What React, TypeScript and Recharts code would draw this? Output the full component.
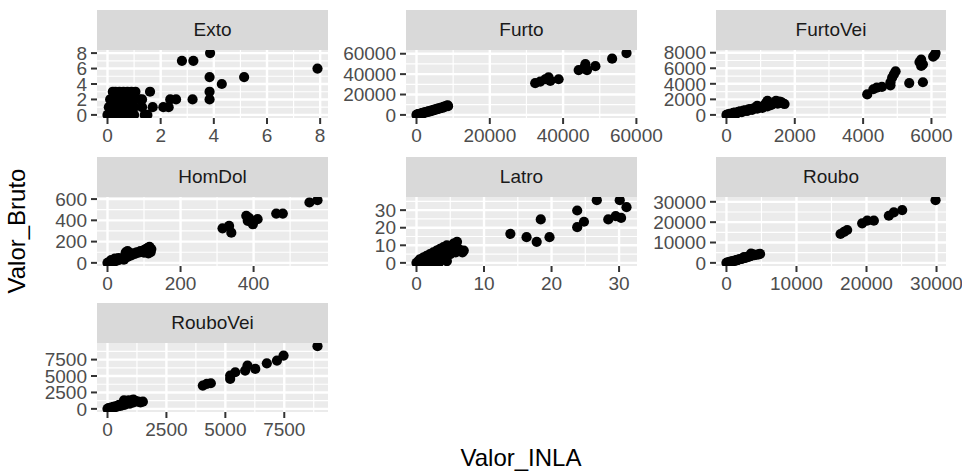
import { ScatterChart, Scatter, XAxis, YAxis, CartesianGrid } from "recharts";

type Pt = [number, number];

// values (Valor_INLA, Valor_Bruto)
const extoPoints: Pt[] = [
  [0.2, 3], [0.3, 3], [0.45, 3], [0.6, 3], [0.75, 3], [0.9, 3], [1.05, 3], [1.6, 3],
  [0.1, 2], [0.2, 2], [0.35, 2], [0.5, 2], [0.65, 2], [0.8, 2], [1.0, 2], [1.2, 2], [1.3, 2],
  [0.05, 1], [0.2, 1], [0.35, 1], [0.5, 1], [0.7, 1], [0.85, 1], [1.0, 1], [1.3, 1], [1.7, 1], [2.1, 1], [2.3, 1],
  [0, 0], [0.1, 0], [0.25, 0], [0.4, 0], [0.6, 0], [0.8, 0], [1.0, 0], [1.4, 0], [1.5, 0],
  [2.36, 2], [2.58, 2], [3.2, 2], [3.84, 2], [3.84, 3], [3.84, 4.9], [4.3, 4], [5.14, 4.9],
  [2.8, 7], [3.23, 7], [3.86, 8], [7.9, 6],
];

const furtoPoints: Pt[] = [
  [0, 0], [150, 250], [300, 100], [450, 500], [600, 700], [800, 600], [1000, 1100], [1200, 1400],
  [1400, 1300], [1600, 1800], [1800, 1700], [2000, 2200], [2300, 2500], [2600, 2400], [2900, 3100],
  [3200, 3400], [3500, 3300], [3800, 4000], [4100, 4300], [4400, 4200], [4700, 5000], [5000, 5300],
  [5300, 5200], [5600, 5900], [5900, 6200], [6200, 6100], [6500, 6800], [6800, 7100], [7100, 7000],
  [7400, 7800], [7700, 8100], [8000, 8400], [8300, 8900], [8500, 9400], [8600, 8600],
  [32390, 31120], [33760, 32720], [35130, 34970], [36040, 36900], [36500, 33360], [38780, 34970],
  [44250, 43950], [45620, 45560], [46080, 49730], [46530, 43950], [48810, 47800], [53380, 55180],
  [57300, 60640],
];

const furtoVeiPoints: Pt[] = [
  [0, 0], [50, 80], [100, 150], [150, 100], [200, 250], [250, 300], [300, 200], [350, 400],
  [400, 450], [450, 350], [500, 550], [550, 600], [600, 500], [650, 700], [700, 750], [750, 650],
  [800, 850], [850, 900], [900, 800], [950, 1000], [1000, 1050], [1050, 900], [1100, 1200],
  [1150, 1500], [1200, 1800], [1250, 1300], [1300, 1250], [1350, 1400], [1400, 1550], [1450, 1800],
  [1500, 1450], [1550, 1700], [1600, 1650], [1650, 1500], [1700, 1400], [1200, 1100], [900, 1150],
  [4120, 2640], [4300, 3300], [4400, 3500], [4550, 3600], [4800, 3800], [4800, 4200], [4850, 4800],
  [4900, 5200], [4950, 5600], [5350, 4100], [5650, 6800], [5700, 7100], [5700, 6300], [5750, 6500],
  [5750, 4200], [6050, 7500], [6100, 7700], [6120, 7950],
];

const homDolPoints: Pt[] = [
  [0, 0], [5, 10], [10, 5], [15, 20], [20, 15], [25, 30], [30, 25], [35, 40], [40, 35], [45, 50],
  [50, 60], [55, 55], [60, 80], [65, 70], [70, 90], [75, 85], [80, 100], [85, 95], [90, 110],
  [95, 105], [100, 120], [105, 130], [110, 140], [115, 150], [120, 130], [118, 100], [112, 90],
  [100, 95], [50, 100], [55, 110], [60, 95], [45, 30], [30, 45], [20, 40], [10, 25],
  [315, 325], [333, 347], [339, 284], [380, 442], [384, 395], [398, 363], [411, 411], [388, 420],
  [462, 464], [480, 464], [553, 568], [575, 590],
];

const latroPoints: Pt[] = [
  [0, 0], [0.3, 1], [0.5, 2], [0.8, 0], [1, 3], [1.2, 1], [1.5, 4], [1.8, 2], [2, 5], [2.2, 3],
  [2.5, 6], [2.8, 4], [3, 7], [3.2, 5], [3.5, 8], [3.8, 6], [4, 9], [4.2, 7], [4.5, 10], [4.8, 8],
  [5, 9], [5.5, 11], [6, 12], [6.2, 8], [6.5, 7], [6.8, 6], [7, 7], [5.8, 6], [4, 3], [3, 2],
  [2, 1], [1.5, 0], [5, 5], [3.3, 0], [2.5, 0], [4.5, 1],
  [13.9, 16.5], [16.3, 14.6], [17.8, 12], [18.4, 24.7], [19.7, 14.6], [23.8, 29.8], [23.8, 20.3],
  [24.8, 23.4], [28.4, 24.7], [29.5, 26.6], [30.3, 25.6], [26.7, 35.7], [30.1, 35.7], [31.1, 31.7],
];

const rouboPoints: Pt[] = [
  [0, 0], [200, 300], [400, 200], [600, 600], [800, 700], [1000, 900], [1200, 1100], [1400, 1200],
  [1600, 1500], [1800, 1700], [2000, 1900], [2200, 2000], [2400, 2300], [2600, 2400], [2800, 2600],
  [3000, 2900], [3200, 3000], [3400, 3300], [3600, 3500], [3800, 4200], [4000, 3800], [4300, 4000],
  [4600, 4200], [4800, 4400], [3500, 4500], [2500, 2800], [1500, 1300], [500, 400],
  [16290, 14190], [16800, 15200], [17240, 16150], [19380, 19410], [20100, 20720], [21050, 20720],
  [23190, 23165], [23900, 24800], [25100, 25950], [29860, 30830],
];

const rouboVeiPoints: Pt[] = [
  [0, 0], [50, 100], [100, 50], [150, 200], [200, 150], [250, 300], [300, 250], [350, 400],
  [400, 350], [450, 500], [500, 600], [550, 450], [600, 700], [650, 550], [700, 800], [750, 650],
  [800, 1200], [850, 900], [900, 1000], [950, 800], [1000, 1100], [1050, 1300], [1100, 1000],
  [1200, 1200], [1300, 1100], [1400, 1000], [1500, 1100], [700, 1300], [900, 1300], [1100, 1400],
  [4045, 3548], [4215, 3800], [4385, 3900], [5205, 4560], [5205, 5070], [5420, 5575], [5840, 5830],
  [5940, 6590], [6270, 6080], [6760, 6940], [7190, 7350], [7470, 8110], [8910, 9550],
];

const facetNames = ["Exto", "Furto", "FurtoVei", "HomDol", "Latro", "Roubo", "RouboVei"];
const facetPoints = [extoPoints, furtoPoints, furtoVeiPoints, homDolPoints, latroPoints, rouboPoints, rouboVeiPoints];

// breaks per facet
const xMajor = [
  [0, 2, 4, 6, 8], [0, 20000, 40000, 60000], [0, 2000, 4000, 6000], [0, 200, 400],
  [0, 10, 20, 30], [0, 10000, 20000, 30000], [0, 2500, 5000, 7500],
];
const xMinor = [
  [1, 3, 5, 7], [10000, 30000, 50000], [1000, 3000, 5000], [100, 300, 500],
  [5, 15, 25], [5000, 15000, 25000], [1250, 3750, 6250, 8750],
];
const yMajor = [
  [0, 2, 4, 6, 8], [0, 20000, 40000, 60000], [0, 2000, 4000, 6000, 8000], [0, 200, 400, 600],
  [0, 10, 20, 30], [0, 10000, 20000, 30000], [0, 2500, 5000, 7500],
];
const yMinor = [
  [1, 3, 5, 7], [10000, 30000, 50000], [1000, 3000, 5000, 7000], [100, 300, 500],
  [5, 15, 25, 35], [5000, 15000, 25000], [1250, 3750, 6250, 8750],
];

// layout of the facet grid (panel area, not counting strips / axes)
const colLeft = [97, 406, 716];
const colWidth = [231, 231, 230];
const rowTop = [50, 197, 343];
const rowHeight = [68, 69, 69];
const STRIP_H = 40;
const Y_AXIS_W = 80;
const X_AXIS_H = 34;
const TOP_PAD = 14; // room for the top tick label, which sticks out above the panel
const RIGHT_PAD = 40;

const FONT = "'Liberation Sans', Arial, Helvetica, sans-serif";
const tickStyle = { fill: "#4D4D4D", fontSize: 19, fontFamily: FONT };
const tickLineStyle = { stroke: "#333333", strokeWidth: 2 };

// ggplot-style continuous scale: data range expanded by 5% on each side
function expandRange(values: number[]): [number, number] {
  const lo = Math.min(...values);
  const hi = Math.max(...values);
  const pad = (hi - lo) * 0.05;
  return [lo - pad, hi + pad];
}

function Facet({ index }: { index: number }) {
  const col = index % 3;
  const row = Math.floor(index / 3);
  const pw = colWidth[col];
  const ph = rowHeight[row];
  const points = facetPoints[index];
  const data = points.map(([x, y]) => ({ x, y }));
  const xDomain = expandRange(points.map((p) => p[0]));
  const yDomain = expandRange(points.map((p) => p[1]));

  return (
    <>
      {/* Strip */}
      <div
        style={{
          position: "absolute",
          left: colLeft[col],
          top: rowTop[row] - STRIP_H,
          width: pw,
          height: STRIP_H,
          background: "#D9D9D9",
          color: "#1A1A1A",
          fontSize: 19,
          fontFamily: FONT,
          display: "flex",
          alignItems: "center",
          justifyContent: "center",
        }}
      >
        {facetNames[index]}
      </div>

      {/* Panel */}
      <div style={{ position: "absolute", left: colLeft[col] - Y_AXIS_W, top: rowTop[row] - TOP_PAD }}>
        <ScatterChart
          width={Y_AXIS_W + pw + RIGHT_PAD}
          height={TOP_PAD + ph + X_AXIS_H}
          margin={{ top: TOP_PAD, right: RIGHT_PAD, bottom: 0, left: 0 }}
        >
          <CartesianGrid
            fill="#EBEBEB"
            fillOpacity={1}
            stroke="#FFFFFF"
            strokeWidth={2.4}
            verticalValues={xMajor[index]}
            horizontalValues={yMajor[index]}
          />
          <CartesianGrid
            stroke="#FFFFFF"
            strokeWidth={1.2}
            verticalValues={xMinor[index]}
            horizontalValues={yMinor[index]}
          />
          <XAxis
            type="number"
            dataKey="x"
            domain={xDomain}
            allowDataOverflow
            ticks={xMajor[index]}
            interval={0}
            height={X_AXIS_H}
            axisLine={false}
            tickLine={tickLineStyle}
            tickSize={6}
            tickMargin={5}
            tick={tickStyle}
          />
          <YAxis
            type="number"
            dataKey="y"
            domain={yDomain}
            allowDataOverflow
            ticks={yMajor[index]}
            interval={0}
            width={Y_AXIS_W}
            axisLine={false}
            tickLine={tickLineStyle}
            tickSize={6}
            tickMargin={4}
            tick={tickStyle}
          />
          <Scatter
            data={data}
            isAnimationActive={false}
            shape={(props: any) => <circle cx={props.cx} cy={props.cy} r={5.1} fill="#000000" />}
          />
        </ScatterChart>
      </div>
    </>
  );
}

export default function App() {
  return (
    <div
      style={{
        position: "fixed",
        left: 0,
        top: 0,
        width: 962,
        height: 473,
        background: "#FFFFFF",
        fontFamily: FONT,
        overflow: "hidden",
      }}
    >
      {facetNames.map((name, i) => (
        <Facet key={name} index={i} />
      ))}

      {/* Axis titles */}
      <div
        style={{
          position: "absolute",
          left: 17.4,
          top: 231,
          transform: "translate(-50%, -50%) rotate(-90deg)",
          fontSize: 24,
          lineHeight: "24px",
          whiteSpace: "nowrap",
          color: "#000000",
        }}
      >
        Valor_Bruto
      </div>
      <div
        style={{
          position: "absolute",
          left: 521,
          top: 446,
          transform: "translateX(-50%)",
          fontSize: 24,
          lineHeight: "24px",
          whiteSpace: "nowrap",
          color: "#000000",
        }}
      >
        Valor_INLA
      </div>
    </div>
  );
}
